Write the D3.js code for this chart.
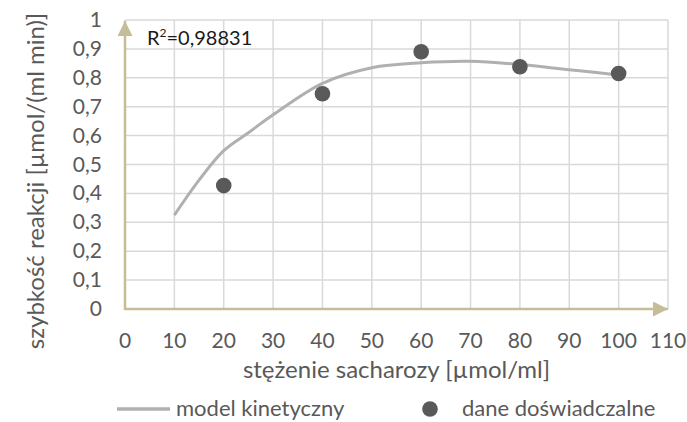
<!DOCTYPE html>
<html>
<head>
<meta charset="utf-8">
<script src="https://cdn.jsdelivr.net/npm/d3@7"></script>
<style>
  body { margin: 0; background: #fff; }
  svg text { font-family: Lato, "Open Sans", sans-serif; fill: #595959; }
</style>
</head>
<body>
<div id="container"></div>
<script>
/**
 * CONSTANTS AND DATA
 * */
const width = 687,
  height = 422,
  margin = { top: 20, right: 19, bottom: 113, left: 125 }

// model kinetyczny
const modelX = [10, 15, 20, 25, 30, 40, 50, 60, 70, 80, 90, 100]
const modelY = [0.325, 0.446, 0.548, 0.61, 0.672, 0.781, 0.835, 0.852, 0.857, 0.846, 0.828, 0.81]

// dane doświadczalne
const pointX = [20, 40, 60, 80, 100]
const pointY = [0.427, 0.745, 0.89, 0.838, 0.815]

const xTicks = [0, 10, 20, 30, 40, 50, 60, 70, 80, 90, 100, 110]
const yTicks = [0, 0.1, 0.2, 0.3, 0.4, 0.5, 0.6, 0.7, 0.8, 0.9, 1]

const axisColor = '#c4bd97'
const gridColor = '#d9d9d9'

/**
 * DRAW
 * */
const svg = d3.select('#container')
  .append('svg')
  .attr('width', width)
  .attr('height', height)

const x = d3.scaleLinear().domain([0, 110]).range([margin.left, width - margin.right])
const y = d3.scaleLinear().domain([0, 1]).range([height - margin.bottom, margin.top])

const fmt = d => d3.format('~g')(d).replace('.', ',')

// grid
svg.append('g')
  .selectAll('line')
  .data(xTicks)
  .join('line')
  .attr('x1', d => x(d)).attr('x2', d => x(d))
  .attr('y1', y(0)).attr('y2', y(1))
  .attr('stroke', gridColor)
  .attr('stroke-width', 1.5)

svg.append('g')
  .selectAll('line')
  .data(yTicks)
  .join('line')
  .attr('x1', x(0)).attr('x2', x(110))
  .attr('y1', d => y(d)).attr('y2', d => y(d))
  .attr('stroke', gridColor)
  .attr('stroke-width', 1.5)

// arrow axes
svg.append('defs').append('marker')
  .attr('id', 'arrow')
  .attr('viewBox', '0 0 10 10')
  .attr('refX', 10).attr('refY', 5)
  .attr('markerWidth', 6.5).attr('markerHeight', 6)
  .attr('markerUnits', 'strokeWidth')
  .attr('orient', 'auto')
  .append('path')
  .attr('d', 'M0,0L10,5L0,10Z')
  .attr('fill', axisColor)

svg.append('line')
  .attr('x1', x(0)).attr('x2', x(0))
  .attr('y1', y(0) + 1).attr('y2', y(1) + 1)
  .attr('stroke', axisColor)
  .attr('stroke-width', 2.5)
  .attr('marker-end', 'url(#arrow)')

svg.append('line')
  .attr('x1', x(0) - 1).attr('x2', x(110))
  .attr('y1', y(0)).attr('y2', y(0))
  .attr('stroke', axisColor)
  .attr('stroke-width', 2.5)
  .attr('marker-end', 'url(#arrow)')

// tick labels
svg.append('g')
  .selectAll('text')
  .data(yTicks)
  .join('text')
  .attr('x', 102)
  .attr('y', d => y(d) + 7)
  .attr('text-anchor', 'end')
  .attr('font-size', 21)
  .text(fmt)

svg.append('g')
  .selectAll('text')
  .data(xTicks)
  .join('text')
  .attr('x', d => x(d))
  .attr('y', 348)
  .attr('text-anchor', 'middle')
  .attr('font-size', 21)
  .text(fmt)

// axis titles
svg.append('text')
  .attr('x', (x(0) + x(110)) / 2)
  .attr('y', 378)
  .attr('text-anchor', 'middle')
  .attr('font-size', 24)
  .text('stężenie sacharozy [µmol/ml]')

svg.append('text')
  .attr('transform', 'translate(44,181) rotate(-90)')
  .attr('text-anchor', 'middle')
  .attr('font-size', 24)
  .text('szybkość reakcji [µmol/(ml min)]')

// model curve
const line = d3.line()
  .x((d, i) => x(modelX[i]))
  .y(d => y(d))
  .curve(d3.curveCatmullRom)

svg.append('path')
  .datum(modelY)
  .attr('d', line)
  .attr('fill', 'none')
  .attr('stroke', '#b0b0b0')
  .attr('stroke-width', 3)

// experimental points
svg.append('g')
  .selectAll('circle')
  .data(pointY)
  .join('circle')
  .attr('cx', (d, i) => x(pointX[i]))
  .attr('cy', d => y(d))
  .attr('r', 7.8)
  .attr('fill', '#595959')

// R^2 label
const r2 = svg.append('text')
  .attr('x', 147)
  .attr('y', 45)
  .attr('font-size', 20)
  .style('fill', '#1a1a1a')
r2.append('tspan').text('R')
r2.append('tspan').attr('font-size', 12).attr('dy', -8).text('2')
r2.append('tspan').attr('dy', 8).text('=0,98831')

// legend
svg.append('line')
  .attr('x1', 117).attr('x2', 170)
  .attr('y1', 409).attr('y2', 409)
  .attr('stroke', '#b0b0b0')
  .attr('stroke-width', 3.5)
svg.append('text')
  .attr('x', 176)
  .attr('y', 416)
  .attr('font-size', 22)
  .text('model kinetyczny')

svg.append('circle')
  .attr('cx', 430).attr('cy', 409)
  .attr('r', 7.8)
  .attr('fill', '#595959')
svg.append('text')
  .attr('x', 462)
  .attr('y', 416)
  .attr('font-size', 22)
  .text('dane doświadczalne')
</script>
</body>
</html>
